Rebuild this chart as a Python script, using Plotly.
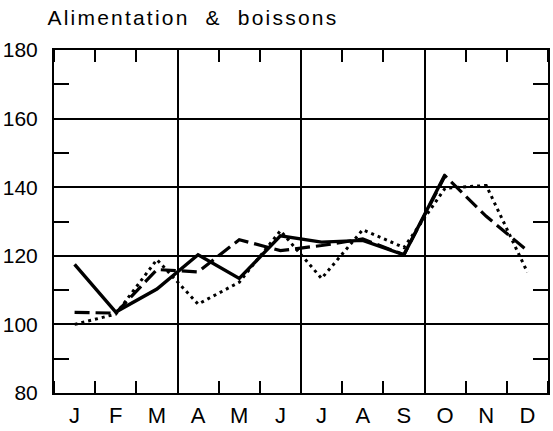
import plotly.graph_objects as go

months = ["J", "F", "M", "A", "M", "J", "J", "A", "S", "O", "N", "D"]
x_pos = [i + 0.5 for i in range(12)]

solid_vals = [117.5, 103.6, 110.3, 120.3, 113.4, 125.8, 124.0, 124.5, 120.3, 143.7]
dashed_vals = [103.5, 103.3, 116.0, 115.3, 124.7, 121.5, 123.0, 124.9, 120.3, 143.3, 131.5, 121.5]
dotted_vals = [100.0, 103.0, 118.9, 105.9, 112.3, 127.3, 113.4, 127.6, 122.4, 139.7, 140.5, 115.2]

title_text = "Alimentation\u00a0\u00a0&\u00a0\u00a0boissons"
y_ticks = [80, 100, 120, 140, 160, 180]

FONT = "Liberation Sans Narrow, Liberation Sans, DejaVu Sans"
TFONT = "Liberation Sans, DejaVu Sans"

fig = go.Figure()
fig.add_trace(go.Scatter(x=x_pos[:len(dotted_vals)], y=dotted_vals, mode="lines",
                         line=dict(color="black", width=3, dash="3px,4px"),
                         showlegend=False, hoverinfo="skip"))
fig.add_trace(go.Scatter(x=x_pos[:len(dashed_vals)], y=dashed_vals, mode="lines",
                         line=dict(color="black", width=3.2, dash="15px,6px"),
                         showlegend=False, hoverinfo="skip"))
fig.add_trace(go.Scatter(x=x_pos[:len(solid_vals)], y=solid_vals, mode="lines",
                         line=dict(color="black", width=3.4),
                         showlegend=False, hoverinfo="skip"))
# invisible trace to hold the quarter grid axis
fig.add_trace(go.Scatter(x=[0, 12], y=[80, 80], xaxis="x2", mode="lines",
                         line=dict(width=0), showlegend=False, hoverinfo="skip"))

fig.update_layout(
    width=553, height=431, autosize=False,
    margin=dict(l=50, r=3, t=50, b=34),
    paper_bgcolor="white", plot_bgcolor="white",
    font=dict(family=FONT, color="black", size=21),
    title=dict(text=title_text, x=0.086, xref="container", xanchor="left",
               y=1, yref="container", yanchor="top", pad=dict(t=10, l=0),
               font=dict(family=TFONT, size=21, color="black")),
    xaxis=dict(range=[0, 12], tickmode="array", tickvals=x_pos, ticktext=months,
               ticks="", showgrid=False, zeroline=False,
               showline=True, linecolor="black", linewidth=2, mirror="ticks",
               tickfont=dict(family=FONT, size=22), ticklabelstandoff=2,
               minor=dict(tickmode="linear", tick0=0, dtick=1, ticks="inside",
                          ticklen=12, tickwidth=1.5, tickcolor="black", showgrid=False)),
    xaxis2=dict(range=[0, 12], overlaying="x", tickmode="array", tickvals=[3, 6, 9],
                showticklabels=False, ticks="", showgrid=True, gridcolor="black",
                gridwidth=1.6, zeroline=False, showline=False),
    yaxis=dict(range=[80, 180], tickmode="array", tickvals=y_ticks,
               ticks="", showgrid=True, gridcolor="black", gridwidth=1.6, zeroline=False,
               showline=True, linecolor="black", linewidth=2, mirror="ticks",
               tickfont=dict(family=FONT, size=21), ticklabelstandoff=10,
               minor=dict(tickmode="linear", tick0=90, dtick=20, ticks="inside",
                          ticklen=15, tickwidth=1.5, tickcolor="black", showgrid=False)),
)

post = (
    "var st=document.createElement('style');"
    "st.textContent='html,body{margin:0;padding:0;overflow:hidden;} .gtitle{letter-spacing:2.2px;}';"
    "document.head.appendChild(st);"
    "var gd=document.getElementById('{plot_id}');"
    "Plotly.relayout(gd,{width:553,height:431});"
)

fig.write_html("out.html", config={"responsive": False, "displayModeBar": False},
               post_script=post)
